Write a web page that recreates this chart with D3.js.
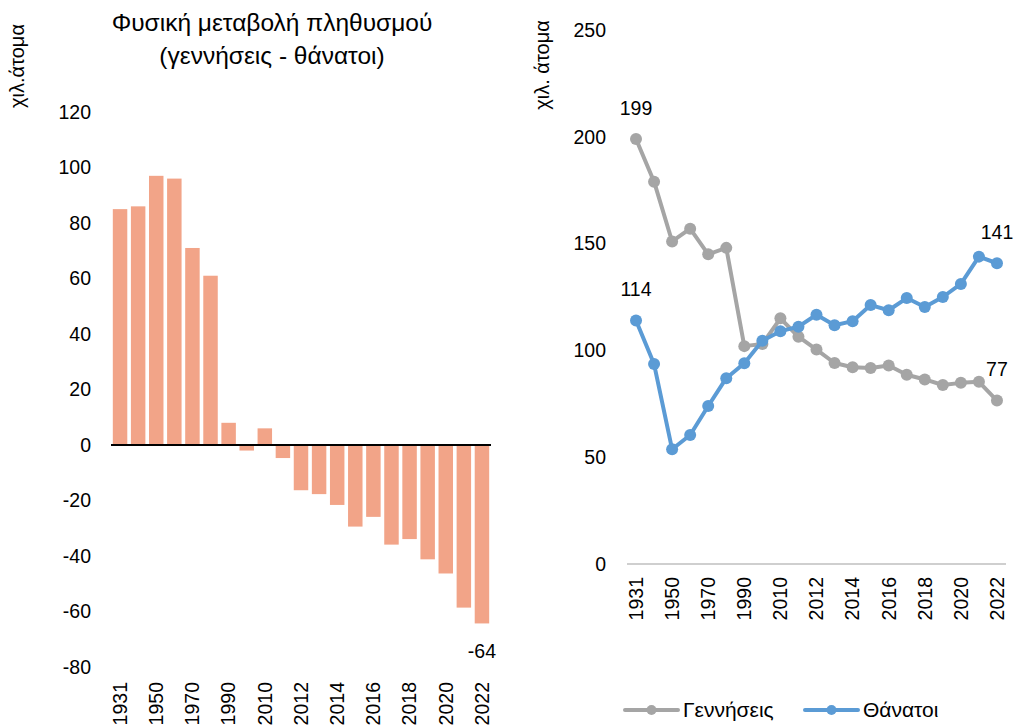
<!DOCTYPE html>
<html>
<head>
<meta charset="utf-8">
<script src="https://cdn.jsdelivr.net/npm/d3@7"></script>
<style>
  html, body { margin: 0; padding: 0; background: #fff; }
  svg text { font-family: "Liberation Sans", Arial, Helvetica, sans-serif; fill: #000; }
</style>
</head>
<body>
<svg id="chart" width="1017" height="725"></svg>
<script>
// ---- data ----
const categories = ["1931","1940","1950","1960","1970","1980","1990","2000","2010","2011","2012","2013","2014","2015","2016","2017","2018","2019","2020","2021","2022"];
const shownLabels = ["1931","1950","1970","1990","2010","2012","2014","2016","2018","2020","2022"];
const naturalChange = [85, 86, 97, 96, 71, 61, 8, -2, 6, -4.7, -16.3, -17.7, -21.6, -29.4, -25.9, -35.9, -33.9, -41.2, -46.3, -58.6, -64.3];
const births = [199, 179, 151, 157, 145, 148, 102, 103, 115, 106.4, 100.4, 94.1, 92.1, 91.8, 92.9, 88.6, 86.4, 83.8, 84.8, 85.3, 76.5];
const deaths = [114, 93.6, 53.7, 60.4, 74, 87, 94, 104.5, 109, 111.1, 116.7, 111.8, 113.7, 121.2, 118.8, 124.5, 120.3, 125.0, 131.1, 143.9, 140.8];
const barTicks = [-80, -60, -40, -20, 0, 20, 40, 60, 80, 100, 120];
const lineTicks = [0, 50, 100, 150, 200, 250];
const seriesNames = ["Γεννήσεις", "Θάνατοι"];
const titleLines = ["Φυσική μεταβολή πληθυσμού", "(γεννήσεις - θάνατοι)"];

const svg = d3.select("#chart");
const FS = 19.5;
const fmt = d => String(d);

// ---- left: bar chart ----
const xb = d3.scaleBand().domain(categories).range([111, 491]).paddingInner(0.2).paddingOuter(0.1);
const yb = d3.scaleLinear().domain([-80, 120]).range([667, 112]);

const gL = svg.append("g");
gL.append("g").selectAll("rect").data(naturalChange).join("rect")
  .attr("x", (d, i) => xb(categories[i]))
  .attr("width", xb.bandwidth())
  .attr("y", d => yb(Math.max(0, d)))
  .attr("height", d => Math.abs(yb(d) - yb(0)))
  .attr("fill", "#F2A488");

gL.append("line")
  .attr("x1", 111).attr("x2", 491)
  .attr("y1", yb(0)).attr("y2", yb(0))
  .attr("stroke", "#000").attr("stroke-width", 2);

const yAxisL = d3.axisLeft(yb).tickValues(barTicks).tickFormat(fmt).tickSize(0).tickPadding(0);
gL.append("g").attr("transform", "translate(91,0)").call(yAxisL)
  .call(g => g.select(".domain").remove())
  .selectAll("text").attr("font-size", FS).attr("font-family", "Liberation Sans, Arial, sans-serif").attr("fill", "#000");

gL.append("g").selectAll("text").data(categories.filter(c => shownLabels.includes(c))).join("text")
  .attr("transform", d => `translate(${xb(d) + xb.bandwidth() / 2},682) rotate(-90)`)
  .attr("text-anchor", "end").attr("dy", "0.35em")
  .attr("font-size", FS).text(d => d);

gL.append("text")
  .attr("x", xb("2022") + xb.bandwidth() / 2).attr("y", yb(naturalChange[20]) + 28)
  .attr("dy", "0.35em").attr("text-anchor", "middle").attr("font-size", FS)
  .text(fmt(Math.round(naturalChange[20])));

gL.selectAll(".title").data(titleLines).join("text")
  .attr("x", 272).attr("y", (d, i) => 22 + i * 33).attr("dy", "0.35em")
  .attr("text-anchor", "middle").attr("font-size", 24.5).text(d => d);

gL.append("text")
  .attr("transform", "translate(24,66) rotate(-90)")
  .attr("text-anchor", "middle").attr("font-size", 20).text("χιλ.άτομα");

// ---- right: line chart ----
const xl = d3.scaleBand().domain(categories).range([627, 1006]).padding(0);
const yl = d3.scaleLinear().domain([0, 250]).range([564, 30]);
const cx = c => xl(c) + xl.bandwidth() / 2;

const gR = svg.append("g");
gR.append("line")
  .attr("x1", 627).attr("x2", 1006).attr("y1", yl(0)).attr("y2", yl(0))
  .attr("stroke", "#BFBFBF").attr("stroke-width", 1.5);

const yAxisR = d3.axisLeft(yl).tickValues(lineTicks).tickFormat(fmt).tickSize(0).tickPadding(0);
gR.append("g").attr("transform", "translate(606,0)").call(yAxisR)
  .call(g => g.select(".domain").remove())
  .selectAll("text").attr("font-size", FS).attr("font-family", "Liberation Sans, Arial, sans-serif").attr("fill", "#000");

gR.append("g").selectAll("text").data(categories.filter(c => shownLabels.includes(c))).join("text")
  .attr("transform", d => `translate(${cx(d)},577) rotate(-90)`)
  .attr("text-anchor", "end").attr("dy", "0.35em")
  .attr("font-size", FS).text(d => d);

gR.append("text")
  .attr("transform", "translate(549,65) rotate(-90)")
  .attr("text-anchor", "middle").attr("font-size", 20).text("χιλ. άτομα");

const series = [
  { name: seriesNames[0], values: births, color: "#A5A5A5" },
  { name: seriesNames[1], values: deaths, color: "#5B9BD5" }
];
const line = d3.line().x((d, i) => cx(categories[i])).y(d => yl(d));

series.forEach(s => {
  gR.append("path").datum(s.values).attr("d", line)
    .attr("fill", "none").attr("stroke", s.color).attr("stroke-width", 4).attr("stroke-linejoin", "round");
  gR.append("g").selectAll("circle").data(s.values).join("circle")
    .attr("cx", (d, i) => cx(categories[i])).attr("cy", d => yl(d)).attr("r", 6)
    .attr("fill", s.color);
  [0, s.values.length - 1].forEach(i => {
    gR.append("text")
      .attr("x", cx(categories[i])).attr("y", yl(s.values[i]) - 31)
      .attr("dy", "0.35em").attr("text-anchor", "middle").attr("font-size", FS)
      .text(fmt(Math.round(s.values[i])));
  });
});

// legend
const legX = [625, 805];
series.forEach((s, i) => {
  const g = gR.append("g").attr("transform", `translate(${legX[i]},710)`);
  g.append("line").attr("x1", 0).attr("x2", 53).attr("y1", 0).attr("y2", 0)
    .attr("stroke", s.color).attr("stroke-width", 4).attr("stroke-linecap", "round");
  g.append("circle").attr("cx", 26.5).attr("cy", 0).attr("r", 5).attr("fill", s.color);
  g.append("text").attr("x", 58).attr("y", 0).attr("dy", "0.35em").attr("font-size", 21).text(s.name);
});
</script>
</body>
</html>
